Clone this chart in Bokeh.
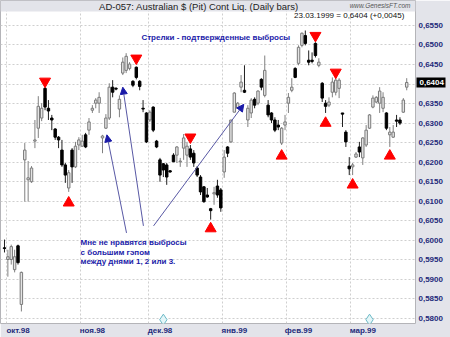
import pandas as pd
from bokeh.plotting import figure
from bokeh.models import (ColumnDataSource, Range1d, FixedTicker, CustomJSTickFormatter,
                          Label, Arrow, NormalHead, LinearAxis, BoxAnnotation)
from bokeh.embed import file_html
from bokeh.resources import INLINE

# ---------------- data ----------------
holidays = ["1998-11-26", "1998-12-25", "1999-01-01", "1999-01-18", "1999-02-15"]
dates = pd.bdate_range("1998-09-30", "1999-03-23", freq="C", holidays=holidays)

opens = [.5981, .5951, .5951, .5925, .5986, .5836, .6206, .6155, .6150, .6254,
         .6287, .6313, .6389, .6338, .6313, .6285, .6264, .6231, .6193, .6134,
         .6231, .6188, .6244, .6241, .6270, .6282, .6333, .6351, .6351, .6262,
         .6287, .6313, .6392, .6389, .6336, .6428, .6435, .6440, .6407, .6443,
         .6407, .6338, .6326, .6308, .6341, .6254, .6206, .6196, .6193, .6178,
         .6218, .6218, .6201, .6236, .6218, .6234, .6223, .6185, .6162, .6137,
         .6116, .6081, .6119, .6139, .6129, .6175, .6239, .6252, .6328, .6338,
         .6392, .6384, .6308, .6326, .6361, .6351, .6412, .6371, .6346, .6326,
         .6308, .6295, .6249, .6295, .6351, .6384, .6440, .6453, .6499, .6524,
         .6461, .6461, .6504, .6448, .6402, .6351, .6346, .6379, .6379, .6389,
         .6326, .6277, .6190, .6188, .6213, .6239, .6211, .6244, .6287, .6341,
         .6354, .6351, .6338, .6326, .6270, .6264, .6308, .6308, .6328, .6392]
highs = [.6002, .5976, .5989, .5976, .5989, .5920, .6249, .6203, .6190, .6308,
         .6369, .6351, .6394, .6359, .6321, .6287, .6267, .6257, .6198, .6180,
         .6236, .6252, .6264, .6270, .6275, .6313, .6346, .6364, .6379, .6270,
         .6323, .6402, .6410, .6392, .6371, .6468, .6479, .6456, .6410, .6445,
         .6410, .6359, .6328, .6333, .6343, .6257, .6211, .6198, .6198, .6180,
         .6223, .6241, .6211, .6272, .6252, .6244, .6231, .6190, .6167, .6139,
         .6134, .6083, .6137, .6155, .6134, .6231, .6241, .6308, .6379, .6354,
         .6423, .6448, .6346, .6364, .6366, .6384, .6415, .6473, .6359, .6328,
         .6315, .6308, .6290, .6321, .6377, .6415, .6443, .6499, .6532, .6537,
         .6486, .6481, .6507, .6466, .6405, .6359, .6366, .6417, .6423, .6415,
         .6326, .6282, .6213, .6198, .6226, .6252, .6264, .6295, .6323, .6371,
         .6369, .6392, .6379, .6328, .6290, .6295, .6321, .6315, .6364, .6415]
lows = [.5969, .5907, .5938, .5918, .5938, .5818, .6099, .6099, .6147, .6236,
        .6262, .6305, .6333, .6308, .6282, .6257, .6236, .6188, .6147, .6124,
        .6147, .6185, .6231, .6239, .6236, .6270, .6326, .6338, .6326, .6223,
        .6285, .6308, .6366, .6384, .6315, .6423, .6428, .6435, .6392, .6412,
        .6384, .6328, .6249, .6303, .6277, .6236, .6150, .6162, .6142, .6173,
        .6201, .6198, .6188, .6206, .6188, .6206, .6188, .6162, .6116, .6096,
        .6109, .6053, .6091, .6109, .6073, .6160, .6213, .6249, .6328, .6338,
        .6379, .6377, .6290, .6313, .6338, .6346, .6384, .6366, .6315, .6300,
        .6277, .6282, .6244, .6282, .6326, .6379, .6415, .6448, .6494, .6499,
        .6448, .6453, .6468, .6443, .6354, .6326, .6341, .6366, .6371, .6364,
        .6290, .6239, .6167, .6167, .6211, .6213, .6193, .6239, .6285, .6338,
        .6351, .6326, .6328, .6282, .6239, .6262, .6290, .6295, .6326, .6384]
closes = [.5979, .5958, .5984, .5958, .5943, .5918, .6231, .6160, .6185, .6257,
          .6343, .6338, .6341, .6331, .6308, .6264, .6257, .6193, .6167, .6173,
          .6188, .6241, .6257, .6254, .6239, .6303, .6338, .6359, .6366, .6267,
          .6313, .6392, .6379, .6387, .6361, .6456, .6471, .6451, .6397, .6417,
          .6394, .6336, .6252, .6328, .6282, .6239, .6167, .6180, .6162, .6175,
          .6201, .6239, .6203, .6262, .6241, .6213, .6198, .6167, .6124, .6099,
          .6111, .6076, .6122, .6116, .6083, .6213, .6223, .6308, .6377, .6351,
          .6405, .6379, .6338, .6359, .6346, .6382, .6392, .6435, .6321, .6308,
          .6282, .6290, .6287, .6303, .6366, .6392, .6417, .6494, .6530, .6504,
          .6456, .6458, .6473, .6456, .6364, .6343, .6354, .6405, .6410, .6410,
          .6323, .6252, .6183, .6193, .6221, .6226, .6262, .6282, .6321, .6364,
          .6366, .6382, .6366, .6287, .6277, .6277, .6305, .6300, .6359, .6404]

month_labels = ["окт.98", "ноя.98", "дек.98", "янв.99", "фев.99", "мар.99"]
price_ticks = [0.5800 + 0.005 * k for k in range(16)]

# confirmed outliers (red arrows)
peak_idx = [12, 39, 55, 92, 98]
peak_y = [0.6407, 0.6466, 0.6264, 0.6524, 0.6430]
trough_idx = [19, 61, 82, 95, 103, 114]
trough_y = [0.6096, 0.6030, 0.6216, 0.6300, 0.6142, 0.6216]

# event icons at bottom
event_idx = [47, 108]
event_y = [0.5797, 0.5797]

# rejected outliers: arrows from comment to bar (index, price)
arrow_x0 = [36.1, 41.1, 44.1]
arrow_y0 = [0.6019, 0.6037, 0.6037]
arrow_x1 = [30.3, 35.0, 70.8]
arrow_y1 = [0.6270, 0.6392, 0.6348]

title_text = "AD-057:  Australian $ (Pit) Cont Liq.  (Daily bars)"
sub_text = "23.03.1999 = 0,6404 (+0,0045)"
site_text = "www.GenesisFT.com"
note_top = "Стрелки - подтвержденные выбросы"
note_lines = ["Мне не нравятся выбросы", "с большим гэпом", "между днями 1, 2 или 3."]

# ---------------- derived ----------------
n = min(len(dates), len(opens))
dates = dates[:n]
idx = list(range(n))
month_idx = [i for i in range(n) if i == 0 or dates[i].month != dates[i - 1].month]
if dates[0].day > 20:
    month_idx = month_idx[1:]
last = closes[n - 1]

up = [closes[i] >= opens[i] for i in idx]
src = ColumnDataSource(dict(
    x=idx, o=opens[:n], h=highs[:n], l=lows[:n], c=closes[:n],
    top=[max(opens[i], closes[i]) for i in idx],
    bot=[min(opens[i], closes[i]) for i in idx],
    fill=["#e4e4e4" if u else "#000000" for u in up],
    line=["#7a7a7a" if u else "#000000" for u in up],
    wick=["#808080" if u else "#202020" for u in up],
))

NAVY = "#1e2a7a"
BLUE = "#1a1aa8"
STRIP = "#e3e4ea"
FONT = "Liberation Sans"
PLOT_TOP = 0.65857   # top of the white chart area; above it is the title band
fmt_js = "return tick.toFixed(4).replace('.', ',');"

p = figure(width=450, height=337, output_backend="svg", toolbar_location=None,
           x_range=Range1d(-1.18, 121.6), y_range=Range1d(0.57872, 0.66138),
           x_axis_location="below", y_axis_location="right",
           min_border_left=0, min_border_right=35, min_border_top=0, min_border_bottom=13)
p.background_fill_color = "white"
p.border_fill_color = STRIP
p.outline_line_color = "#b4b4b8"

# grids
p.xgrid.ticker = FixedTicker(ticks=[m - 0.5 for m in month_idx])
p.ygrid.ticker = FixedTicker(ticks=price_ticks)
for g in (p.xgrid, p.ygrid):
    g.grid_line_color = "#cfcfcf"
    g.grid_line_dash = "2 2"
    g.grid_line_width = 1

# axes
xa = p.xaxis[0]
xa.ticker = FixedTicker(ticks=[m + 3 for m in month_idx])
xa.major_label_overrides = {m + 3: lab for m, lab in zip(month_idx, month_labels)}
ya = p.yaxis[0]
ya.ticker = FixedTicker(ticks=[t for t in price_ticks if abs(t - last) > 0.002])
ya.formatter = CustomJSTickFormatter(code=fmt_js)
for ax in (xa, ya):
    ax.axis_line_color = None
    ax.major_tick_line_color = None
    ax.minor_tick_line_color = None
    ax.major_tick_out = 0
    ax.major_tick_in = 0
    ax.major_label_text_font = FONT
    ax.major_label_text_font_style = "bold"
    ax.major_label_text_font_size = "8px"
    ax.major_label_text_color = NAVY
    ax.major_label_standoff = 3
xa.major_label_standoff = 2

# last-price tag: an axis whose single thick tick forms the black box
tag = LinearAxis(ticker=FixedTicker(ticks=[last]), formatter=CustomJSTickFormatter(code=fmt_js),
                 axis_line_color=None, minor_tick_line_color=None,
                 major_tick_in=29, major_tick_out=0, major_tick_line_width=10,
                 major_tick_line_color="black", major_tick_line_cap="butt",
                 major_label_standoff=-26, major_label_text_color="white",
                 major_label_text_font=FONT, major_label_text_font_style="bold",
                 major_label_text_font_size="8px")
p.add_layout(tag, "right")

# title band above the chart area
p.add_layout(BoxAnnotation(bottom=PLOT_TOP, fill_color=STRIP, fill_alpha=1.0,
                           line_color=None, level="underlay"))

# candles
p.segment(x0="x", y0="h", x1="x", y1="l", source=src, line_color="wick", line_width=1)
p.vbar(x="x", width=0.72, top="top", bottom="bot", source=src,
       fill_color="fill", line_color="line", line_width=1)

# red confirmation markers
p.scatter(peak_idx, peak_y, marker="inverted_triangle", size=11,
          fill_color="#ff0000", line_color="#ff0000")
p.scatter(trough_idx, trough_y, marker="triangle", size=11,
          fill_color="#ff0000", line_color="#ff0000")

# event icons
p.scatter(event_idx, event_y, marker="diamond", size=11,
          fill_color="#e4f6f8", line_color="#6ab8c6", line_width=1)

# arrows for rejected outliers
for x0, y0, x1, y1 in zip(arrow_x0, arrow_y0, arrow_x1, arrow_y1):
    p.add_layout(Arrow(x_start=x0, y_start=y0, x_end=x1, y_end=y1,
                       line_color="#5858a4", line_width=1,
                       end=NormalHead(size=7, fill_color=BLUE, line_color=BLUE)))

# texts
p.add_layout(Label(x=58.3, y=0.65985, text=title_text, text_align="center",
                   text_baseline="middle", text_font=FONT, text_font_size="9.5px",
                   text_color="#222222"))
p.add_layout(Label(x=118.3, y=0.65755, text=sub_text, text_align="right",
                   text_baseline="middle", text_font=FONT, text_font_size="8px",
                   text_color="#111111"))
p.add_layout(Label(x=120.1, y=0.6601, text=site_text, text_align="right",
                   text_baseline="middle", text_font=FONT, text_font_size="6.5px",
                   text_font_style="italic", text_color="#555555"))
p.add_layout(Label(x=40.5, y=0.65194, text=note_top, text_align="left",
                   text_baseline="middle", text_font=FONT, text_font_size="8px",
                   text_font_style="bold", text_color=BLUE))
for k, line in enumerate(note_lines):
    p.add_layout(Label(x=22.5, y=0.59939 - k * 0.00245, text=line, text_align="left",
                       text_baseline="middle", text_font=FONT, text_font_size="8px",
                       text_font_style="bold", text_color=BLUE))

open("out.html", "w").write(file_html(p, INLINE))
